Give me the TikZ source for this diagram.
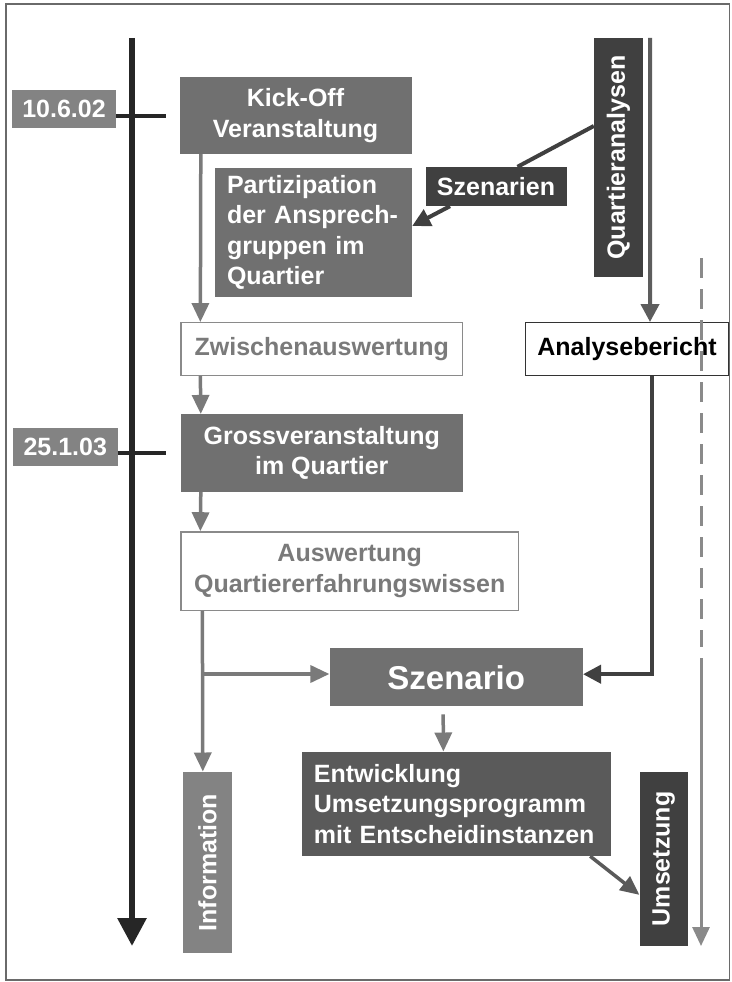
\documentclass[tikz,border=0pt]{standalone}
\usepackage{fontspec}
\usepackage{graphicx}
\usepackage{xcolor}
\setmainfont{Liberation Sans}
\usetikzlibrary{arrows.meta, positioning}

\definecolor{midgray}{HTML}{707070}
\definecolor{darkgray}{HTML}{404040}
\definecolor{entwgray}{HTML}{5A5A5A}
\definecolor{infogray}{HTML}{838383}
\definecolor{lightgray}{HTML}{8A8A8A}
\definecolor{textgray}{HTML}{7A7A7A}
\definecolor{framegray}{HTML}{6A6A6A}

\begin{document}
\begin{tikzpicture}[x=1pt, y=-1pt,
  box/.style={fill=midgray, text=white, inner sep=0pt, align=center,
    font=\bfseries\fontsize{25}{30.5}\selectfont},
  darkbox/.style={box, fill=darkgray},
  openbox/.style={box, fill=white, draw=lightgray, line width=1.3pt, text=textgray},
  datebox/.style={box, fill=infogray, minimum width=104.5pt, minimum height=38pt},
  tline/.style={line width=6pt, draw=black!85, -{Triangle[width=28pt,length=28pt]}},
  tick/.style={line width=4pt, draw=black!85},
  garrow/.style={line width=3.5pt, draw=textgray, -{Triangle[width=17pt,length=19pt]}},
  darrow/.style={line width=4pt, draw=darkgray, -{Triangle[width=18pt,length=18pt]}},
  dline/.style={line width=4pt, draw=darkgray}]

\useasboundingbox (0,0) rectangle (731,982);
\draw[framegray, line width=1.5pt] (6,4) rectangle (729.5,980);

\node[datebox] (d1) at (64,109) {10.6.02};
\node[box, minimum width=232pt, minimum height=77pt] (kick) at (295.5,115.5) {Kick-Off\\Veranstaltung};
\node[box, align=left, text width=173pt, minimum width=197pt, minimum height=129pt] (part) at (313.5,232.5) {Partizipation\\der Ansprech-\\gruppen im\\Quartier};
\node[darkbox, minimum width=141pt, minimum height=39pt] (szen) at (496,186.5) {Szenarien};
\node[darkbox, minimum width=49pt, minimum height=239pt] (quart) at (618.5,157.5) {\rotatebox{90}{Quartieranalysen}};
\node[openbox, minimum width=281.5pt, minimum height=52.6pt] (zwi) at (321.75,349) {Zwischenauswertung};
\node[openbox, text=black, draw=black!80, minimum width=203.3pt, minimum height=52.6pt] (anal) at (627,349) {Analysebericht};
\node[box, minimum width=281.5pt, minimum height=77.7pt] (gross) at (321.75,453) {Grossveranstaltung\\im Quartier};
\node[datebox] (d2) at (65.25,447) {25.1.03};
\node[openbox, minimum width=337.4pt, minimum height=78.3pt] (ausw) at (349.7,571) {Auswertung\\Quartiererfahrungswissen};
\node[box, font=\bfseries\fontsize{33}{38}\selectfont, minimum width=253.2pt, minimum height=57.7pt] (szenario) at (456.2,677.2) {Szenario};
\node[box, fill=entwgray, align=left, text width=285pt, minimum width=308.7pt, minimum height=104.3pt] (entw) at (456.35,803.85) {Entwicklung\\Umsetzungsprogramm\\mit Entscheidinstanzen};
\node[box, fill=infogray, minimum width=48.7pt, minimum height=181.6pt] (info) at (207.35,862.5) {\rotatebox{90}{Information}};
\node[darkbox, minimum width=48pt, minimum height=174.3pt] (umset) at (663.6,858.85) {\rotatebox{90}{Umsetzung}};

\coordinate (tltop) at (132,38);
\coordinate (tlend) at (132,946);
\coordinate (t1) at (165.5,116);
\coordinate (t2) at (165.5,453.3);
\coordinate (br) at (203,674);
\coordinate (ds) at (701,258);
\coordinate (dm) at (701,647);
\coordinate (dn) at (701,658);
\coordinate (de) at (701,946);

\draw[tline] (tltop) -- (tlend);
\draw[tick] (d1.east |- t1) -- (t1);
\draw[tick] (d2.east |- t2) -- (t2);

\draw[garrow] ([xshift=21.5pt]kick.south west) -- ([xshift=20pt]zwi.north west);
\draw[garrow] ([xshift=20pt]zwi.south west) -- ([xshift=20pt]gross.north west);
\draw[garrow] ([xshift=20pt]gross.south west) -- ([xshift=20pt]ausw.north west);
\draw[garrow] ([xshift=22pt]ausw.south west) -- ([xshift=20pt]info.north west);
\draw[garrow] (br) -- (br -| szenario.west);
\draw[garrow] ([xshift=-13pt,yshift=-8pt]szenario.south) -- ([xshift=-13pt]entw.north);
\draw[garrow, draw=entwgray] ([xshift=-20.7pt]entw.south east) -- ([yshift=-36pt]umset.west);

\draw[dline] ([yshift=31.5pt]quart.west) -- ([xshift=21.5pt]szen.north);
\draw[darrow] ([xshift=-46pt]szen.south) -- ([yshift=6.5pt]part.east);
\draw[darrow, draw=darkgray!85] ([xshift=7pt]quart.north east) -- ([xshift=23pt]anal.north);
\draw[darrow] ([xshift=25pt]anal.south) |- ([yshift=3pt]szenario.east);

\draw[line width=3pt, draw=lightgray, dash pattern=on 20pt off 11pt] (ds) -- (dm);
\draw[line width=3pt, draw=lightgray, -{Triangle[width=17pt,length=19pt]}] (dn) -- (de);
\end{tikzpicture}
\end{document}
